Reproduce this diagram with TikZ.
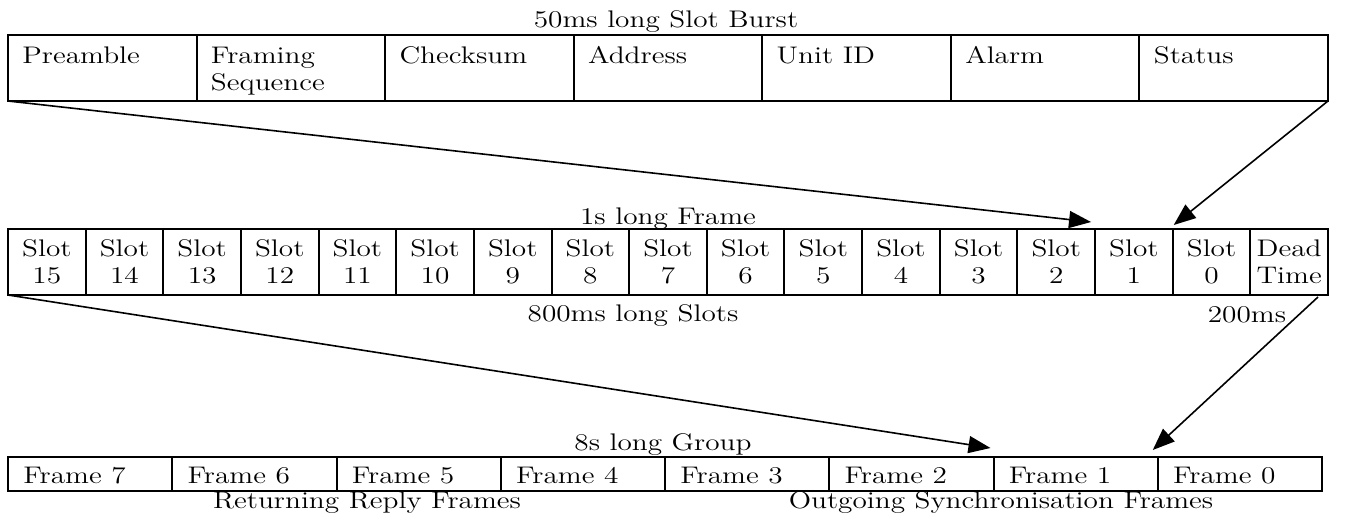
\documentclass[tikz,border=0pt]{standalone}
\usepackage{fontspec}
\setmainfont{Latin Modern Roman}[FakeStretch=1.22]
\usetikzlibrary{arrows.meta,calc}
\begin{document}
\begin{tikzpicture}[x=0.5pt,y=-0.5pt,
  cellbox/.style={draw, line width=1pt, anchor=north west, inner sep=0pt, outer sep=0pt},
  topcell/.style={cellbox, minimum width=94.286pt, minimum height=33pt},
  midcell/.style={cellbox, minimum width=38.824pt, minimum height=33pt},
  botcell/.style={cellbox, minimum width=82.125pt, minimum height=17pt},
  lbl/.style={font=\fontsize{12}{14}\selectfont, inner sep=0pt, anchor=base west},
  clbl/.style={lbl, anchor=base},
  arr/.style={line width=0.8pt, -{Triangle[length=11pt,width=8.5pt]}}]
\useasboundingbox (0,0) rectangle (1350,525);

% ---- top row: 50ms long Slot Burst
\node[clbl] (ttop) at (666,27) {50ms long Slot Burst};
\foreach \i/\t in {0/Preamble,1/Framing,2/Checksum,3/Address,4/Unit ID,5/Alarm,6/Status}{
  \node[topcell] (b\i) at ({8+188.571*\i},35) {};
  \node[lbl] (bt\i) at ($(b\i.north west)+(14,28)$) {\t};
}
\node[lbl] (bt1b) at ($(b1.north west)+(14,55.5)$) {Sequence};

% ---- middle row: 1s long Frame
\node[clbl] (tmid) at (668,224) {1s long Frame};
\foreach \i in {0,...,15}{
  \pgfmathtruncatemacro{\n}{15-\i}
  \node[midcell] (s\n) at ({8+77.647*\i},229) {};
  \node[clbl] (sa\n) at ($(s\n.north)+(0,27)$) {Slot};
  \node[clbl] (sb\n) at ($(s\n.north)+(0,54)$) {\n};
}
\node[midcell] (dead) at ({8+77.647*16},229) {};
\node[clbl] (da) at ($(dead.north)+(0,27)$) {Dead};
\node[clbl] (db) at ($(dead.north)+(0,54)$) {Time};
\node[clbl] (slots) at (633,321) {800ms long Slots};
\node[clbl] (dms) at (1247,322) {200ms};

% ---- bottom row: 8s long Group
\node[clbl] (tbot) at (663,450) {8s long Group};
\foreach \i in {0,...,7}{
  \pgfmathtruncatemacro{\n}{7-\i}
  \node[botcell] (f\n) at ({8+164.25*\i},457) {};
  \node[lbl] (ft\n) at ($(f\n.north west)+(15,26)$) {Frame \n};
}
\node[clbl] (ret) at (367,508) {Returning Reply Frames};
\node[clbl] (out) at (1001,508) {Outgoing Synchronisation Frames};

% ---- connectors
\coordinate (t1) at ($(s1.north west)+(-4,-7)$);
\coordinate (t2) at ($(s0.north west)+(1,-4)$);
\coordinate (t3) at ($(f1.north west)+(-3,-9)$);
\coordinate (d0) at ($(dead.south east)+(-10,2)$);
\coordinate (t4) at ($(f0.north west)+(-5,-7)$);
\draw[arr] (b0.south west) -- (t1);
\draw[arr] (b6.south east) -- (t2);
\draw[arr] (s15.south west) -- (t3);
\draw[arr] (d0) -- (t4);
\end{tikzpicture}
\end{document}
